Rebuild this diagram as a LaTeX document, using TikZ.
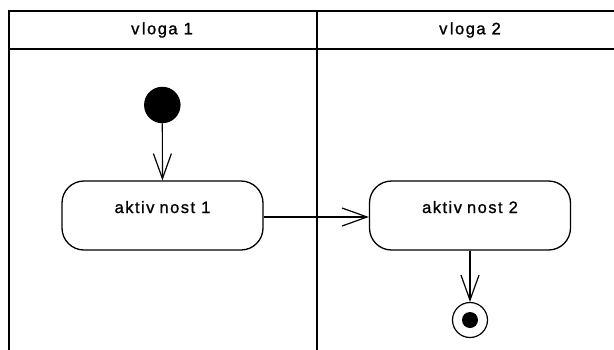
\documentclass[tikz,border=0pt]{standalone}
\usepackage{fontspec}
\setmainfont{Liberation Sans}[LetterSpace=9,FakeBold=1]
\usetikzlibrary{arrows.meta}
\begin{document}
\begin{tikzpicture}[x=1pt,y=-1pt,
  lane/.style={draw=black, line width=2pt},
  head/.style={font=\fontsize{16.5}{19}\selectfont, inner sep=0pt},
  act/.style={draw=black, line width=1.3pt, rounded corners=22pt,
    minimum width=201pt, minimum height=69pt, inner sep=0pt,
    text height=11.5pt, text depth=16.5pt, font=\fontsize{16.5}{19}\selectfont},
  startnode/.style={circle, fill=black, minimum size=36.5pt, inner sep=0pt},
  endnode/.style={circle, draw=black, line width=1.2pt, fill=white,
    minimum size=35pt, inner sep=0pt,
    path picture={\fill[black] (path picture bounding box.center) circle (8pt);}},
  flow/.style={line width=1.2pt,
    -{Straight Barb[length=25pt,width=18pt,line width=1.2pt]}}
]
\useasboundingbox (0,0) rectangle (614,349);
\fill[white] (0,0) rectangle (614,349);

% swimlanes: each lane is an open-bottom frame with a header band
\draw[lane] (9,11) rectangle (317,380);
\draw[lane] (9,49) -- (317,49);
\draw[lane] (317,11) rectangle (625,380);
\draw[lane] (317,49) -- (625,49);

\node[head] (h1) at (162,30) {v\kern2.5pt loga 1};
\node[head] (h2) at (470,30) {v\kern2.5pt loga 2};

% activity flow
\node[startnode] (start) at (162.3,105) {};
\node[act] (a1) at (162.5,215.5) {aktiv\kern5pt nost 1};
\node[act] (a2) at (470,215.5) {aktiv\kern5pt nost 2};
\node[endnode] (end) at (470,320) {};

\draw[flow] (start) -- (a1);
\draw[flow] (a1.east |- 0,217) -- (a2.west |- 0,217);
\draw[flow] (a2) -- (end);
\end{tikzpicture}
\end{document}
